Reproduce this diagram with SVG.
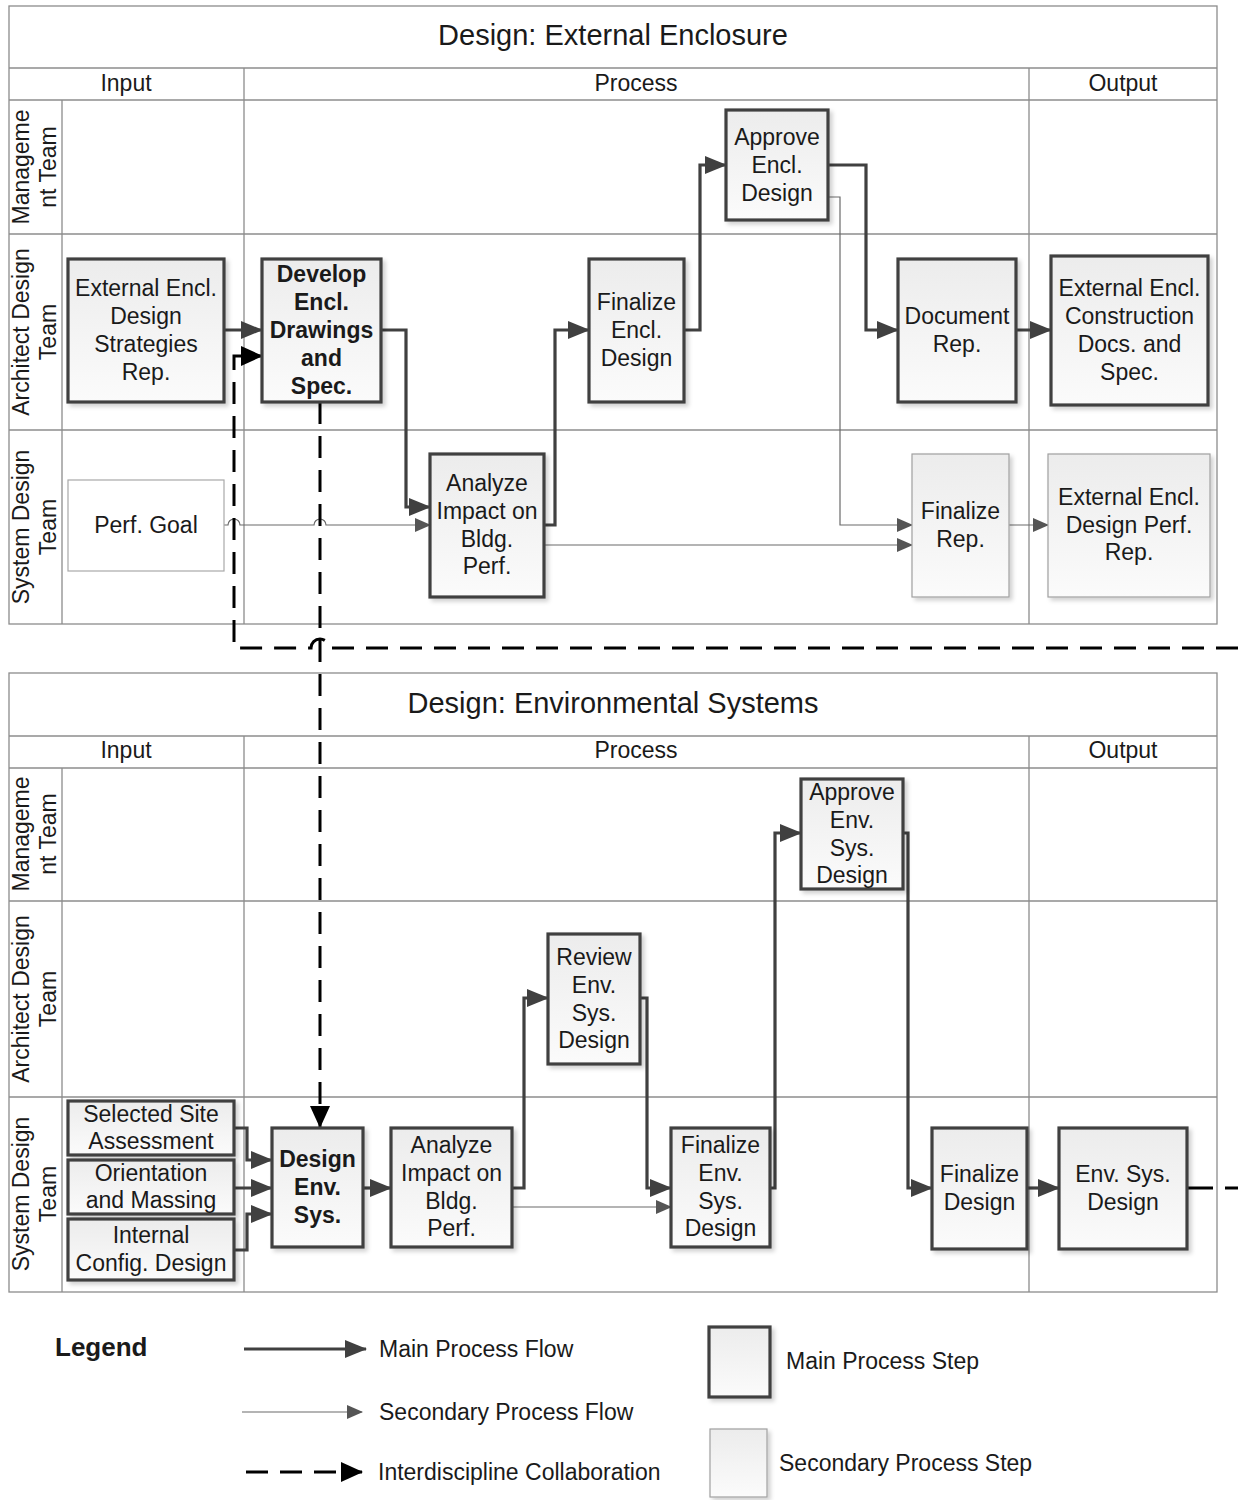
<svg xmlns="http://www.w3.org/2000/svg" width="1238" height="1500" viewBox="0 0 1238 1500">
<style>
text{font-family:"Liberation Sans",Arial,sans-serif;fill:#1a1a1a}
.t{font-size:23px;text-anchor:middle}
.b{font-weight:bold}
.title{font-size:29px;text-anchor:middle}
.hdr{font-size:23px;text-anchor:middle}
.lane{font-size:23px;text-anchor:middle}
.grid{stroke:#8c8c8c;stroke-width:1.3;fill:none}
.main{fill:url(#g);stroke:#404040;stroke-width:3.2;filter:url(#sh)}
.sec{fill:url(#g);stroke:#a0a0a0;stroke-width:1.2;filter:url(#sh)}
.fm{fill:none;stroke:#404040;stroke-width:3.2;marker-end:url(#am)}
.fs{fill:none;stroke:#6a6a6a;stroke-width:1.2;marker-end:url(#as)}
.fd{fill:none;stroke:#000;stroke-width:3;stroke-dasharray:22 12;marker-end:url(#ad)}
.leg{font-size:23px}
</style>
<defs>
<linearGradient id="g" x1="0" y1="0" x2="0" y2="1"><stop offset="0" stop-color="#ececec"/><stop offset="1" stop-color="#fbfbfb"/></linearGradient>
<filter id="sh" x="-10%" y="-10%" width="130%" height="130%"><feDropShadow dx="3" dy="3" stdDeviation="2" flood-color="#000" flood-opacity="0.18"/></filter>
<marker id="am" markerUnits="userSpaceOnUse" markerWidth="22" markerHeight="18" refX="21" refY="9" orient="auto"><path d="M0,0 L22,9 L0,18 z" fill="#404040"/></marker>
<marker id="as" markerUnits="userSpaceOnUse" markerWidth="16" markerHeight="14" refX="15" refY="7" orient="auto"><path d="M0,0 L16,7 L0,14 z" fill="#555"/></marker>
<marker id="ad" markerUnits="userSpaceOnUse" markerWidth="22" markerHeight="20" refX="21" refY="10" orient="auto"><path d="M0,0 L22,10 L0,20 z" fill="#000"/></marker>
</defs>
<rect width="1238" height="1500" fill="#fff"/>

<g id="panel-top">
<rect class="grid" x="9" y="6" width="1208" height="618"/>
<line class="grid" x1="9" y1="68" x2="1217" y2="68"/>
<line class="grid" x1="9" y1="100" x2="1217" y2="100"/>
<line class="grid" x1="62" y1="100" x2="62" y2="624"/>
<line class="grid" x1="244" y1="68" x2="244" y2="624"/>
<line class="grid" x1="1029" y1="68" x2="1029" y2="624"/>
<line class="grid" x1="9" y1="234" x2="1217" y2="234"/>
<line class="grid" x1="9" y1="430" x2="1217" y2="430"/>
<text class="title" x="613" y="45">Design: External Enclosure</text>
<text class="hdr" x="126" y="91">Input</text>
<text class="hdr" x="636" y="91">Process</text>
<text class="hdr" x="1123" y="91">Output</text>
<text class="lane" transform="translate(29,167) rotate(-90)">Manageme</text>
<text class="lane" transform="translate(56,167) rotate(-90)">nt Team</text>
<text class="lane" transform="translate(29,332) rotate(-90)">Architect Design</text>
<text class="lane" transform="translate(56,332) rotate(-90)">Team</text>
<text class="lane" transform="translate(29,527) rotate(-90)">System Design</text>
<text class="lane" transform="translate(56,527) rotate(-90)">Team</text>
</g>

<g id="panel-bottom">
<rect class="grid" x="9" y="673" width="1208" height="619"/>
<line class="grid" x1="9" y1="736" x2="1217" y2="736"/>
<line class="grid" x1="9" y1="768" x2="1217" y2="768"/>
<line class="grid" x1="62" y1="768" x2="62" y2="1292"/>
<line class="grid" x1="244" y1="736" x2="244" y2="1292"/>
<line class="grid" x1="1029" y1="736" x2="1029" y2="1292"/>
<line class="grid" x1="9" y1="901" x2="1217" y2="901"/>
<line class="grid" x1="9" y1="1097" x2="1217" y2="1097"/>
<text class="title" x="613" y="713">Design: Environmental Systems</text>
<text class="hdr" x="126" y="758">Input</text>
<text class="hdr" x="636" y="758">Process</text>
<text class="hdr" x="1123" y="758">Output</text>
<text class="lane" transform="translate(29,834) rotate(-90)">Manageme</text>
<text class="lane" transform="translate(56,834) rotate(-90)">nt Team</text>
<text class="lane" transform="translate(29,999) rotate(-90)">Architect Design</text>
<text class="lane" transform="translate(56,999) rotate(-90)">Team</text>
<text class="lane" transform="translate(29,1194) rotate(-90)">System Design</text>
<text class="lane" transform="translate(56,1194) rotate(-90)">Team</text>
</g>

<g id="connectors">
<path class="fm" d="M224,330 H262"/>
<path class="fm" d="M381,330 H406 V507 H430"/>
<path class="fs" d="M224,525 H228 A6,6 0 0 1 240,525 H314 A6,6 0 0 1 326,525 H430"/>
<path class="fm" d="M544,525 H555 V330 H589"/>
<path class="fs" d="M544,545 H912"/>
<path class="fm" d="M684,330 H700 V165 H726"/>
<path class="fm" d="M828,165 H866 V330 H898"/>
<path class="fs" d="M828,197 H840 V525 H912"/>
<path class="fm" d="M1016,330 H1051"/>
<path class="fs" d="M1009,525 H1048"/>
<path class="fd" d="M1238,648 H329 A9,9 0 0 0 311,648 H234 V356 H262"/>
<path class="fd" d="M320,402 V1127"/>
<path class="fm" d="M234,1128 H247 V1160 H272"/>
<path class="fm" d="M234,1188 H272"/>
<path class="fm" d="M234,1250 H247 V1214 H272"/>
<path class="fm" d="M363,1188 H391"/>
<path class="fm" d="M512,1188 H524 V998 H548"/>
<path class="fs" d="M512,1207 H671"/>
<path class="fm" d="M640,998 H647 V1188 H671"/>
<path class="fm" d="M770,1188 H775 V833 H801"/>
<path class="fm" d="M903,833 H908 V1188 H932"/>
<path class="fm" d="M1027,1188 H1059"/>
<path d="M1187,1188 H1238" fill="none" stroke="#000" stroke-width="3" stroke-dasharray="26 12"/>
</g>

<g id="n-ext-strat"><rect class="main" x="68" y="259" width="156" height="143"/>
<text class="t" x="146" y="296">External Encl.</text><text class="t" x="146" y="324">Design</text><text class="t" x="146" y="352">Strategies</text><text class="t" x="146" y="380">Rep.</text></g>
<g id="n-develop"><rect class="main" x="262" y="259" width="119" height="143"/>
<text class="t b" x="321.5" y="282">Develop</text><text class="t b" x="321.5" y="310">Encl.</text><text class="t b" x="321.5" y="338">Drawings</text><text class="t b" x="321.5" y="366">and</text><text class="t b" x="321.5" y="394">Spec.</text></g>
<g id="n-finalize-encl"><rect class="main" x="589" y="259" width="95" height="143"/>
<text class="t" x="636.5" y="310">Finalize</text><text class="t" x="636.5" y="338">Encl.</text><text class="t" x="636.5" y="366">Design</text></g>
<g id="n-approve-encl"><rect class="main" x="726" y="110" width="102" height="110"/>
<text class="t" x="777" y="145">Approve</text><text class="t" x="777" y="173">Encl.</text><text class="t" x="777" y="201">Design</text></g>
<g id="n-document"><rect class="main" x="898" y="259" width="118" height="143"/>
<text class="t" x="957" y="324">Document</text><text class="t" x="957" y="352">Rep.</text></g>
<g id="n-ext-constr"><rect class="main" x="1051" y="256" width="157" height="149"/>
<text class="t" x="1129.5" y="296">External Encl.</text><text class="t" x="1129.5" y="324">Construction</text><text class="t" x="1129.5" y="352">Docs. and</text><text class="t" x="1129.5" y="380">Spec.</text></g>
<g id="n-perf-goal"><rect x="68" y="480" width="156" height="91" fill="#fff" stroke="#a8a8a8" stroke-width="1.2"/>
<text class="t" x="146" y="533">Perf. Goal</text></g>
<g id="n-analyze-top"><rect class="main" x="430" y="454" width="114" height="143"/>
<text class="t" x="487" y="491">Analyze</text><text class="t" x="487" y="519">Impact on</text><text class="t" x="487" y="547">Bldg.</text><text class="t" x="487" y="574">Perf.</text></g>
<g id="n-finalize-rep"><rect class="sec" x="912" y="454" width="97" height="143"/>
<text class="t" x="960.5" y="519">Finalize</text><text class="t" x="960.5" y="547">Rep.</text></g>
<g id="n-ext-perf"><rect class="sec" x="1048" y="454" width="162" height="143"/>
<text class="t" x="1129" y="505">External Encl.</text><text class="t" x="1129" y="533">Design Perf.</text><text class="t" x="1129" y="560">Rep.</text></g>

<g id="n-site"><rect class="main" x="68" y="1101" width="166" height="54"/>
<text class="t" x="151" y="1122">Selected Site</text><text class="t" x="151" y="1149">Assessment</text></g>
<g id="n-orient"><rect class="main" x="68" y="1160" width="166" height="54"/>
<text class="t" x="151" y="1181">Orientation</text><text class="t" x="151" y="1208">and Massing</text></g>
<g id="n-internal"><rect class="main" x="68" y="1219" width="166" height="61"/>
<text class="t" x="151" y="1243">Internal</text><text class="t" x="151" y="1271">Config. Design</text></g>
<g id="n-design-env"><rect class="main" x="272" y="1128" width="91" height="119"/>
<text class="t b" x="317.5" y="1167">Design</text><text class="t b" x="317.5" y="1195">Env.</text><text class="t b" x="317.5" y="1223">Sys.</text></g>
<g id="n-analyze-bot"><rect class="main" x="391" y="1128" width="121" height="119"/>
<text class="t" x="451.5" y="1153">Analyze</text><text class="t" x="451.5" y="1181">Impact on</text><text class="t" x="451.5" y="1209">Bldg.</text><text class="t" x="451.5" y="1236">Perf.</text></g>
<g id="n-review"><rect class="main" x="548" y="934" width="92" height="130"/>
<text class="t" x="594" y="965">Review</text><text class="t" x="594" y="993">Env.</text><text class="t" x="594" y="1021">Sys.</text><text class="t" x="594" y="1048">Design</text></g>
<g id="n-finalize-env"><rect class="main" x="671" y="1128" width="99" height="119"/>
<text class="t" x="720.5" y="1153">Finalize</text><text class="t" x="720.5" y="1181">Env.</text><text class="t" x="720.5" y="1209">Sys.</text><text class="t" x="720.5" y="1236">Design</text></g>
<g id="n-approve-env"><rect class="main" x="801" y="779" width="102" height="110"/>
<text class="t" x="852" y="800">Approve</text><text class="t" x="852" y="828">Env.</text><text class="t" x="852" y="856">Sys.</text><text class="t" x="852" y="883">Design</text></g>
<g id="n-finalize-design"><rect class="main" x="932" y="1128" width="95" height="121"/>
<text class="t" x="979.5" y="1182">Finalize</text><text class="t" x="979.5" y="1210">Design</text></g>
<g id="n-env-sys-design"><rect class="main" x="1059" y="1128" width="128" height="121"/>
<text class="t" x="1123" y="1182">Env. Sys.</text><text class="t" x="1123" y="1210">Design</text></g>

<g id="legend">
<text x="55" y="1356" font-size="26" font-weight="bold">Legend</text>
<path class="fm" d="M244,1349 H366"/>
<text class="leg" x="379" y="1357">Main Process Flow</text>
<path class="fs" d="M242,1412 H362"/>
<text class="leg" x="379" y="1420">Secondary Process Flow</text>
<path class="fd" d="M246,1472 H362" stroke-dasharray="22 14"/>
<text class="leg" x="378" y="1480">Interdiscipline Collaboration</text>
<rect class="main" x="709" y="1327" width="61" height="70" stroke-width="4.5"/>
<text class="leg" x="786" y="1369">Main Process Step</text>
<rect class="sec" x="710" y="1429" width="57" height="68"/>
<text class="leg" x="779" y="1471">Secondary Process Step</text>
</g>
</svg>
